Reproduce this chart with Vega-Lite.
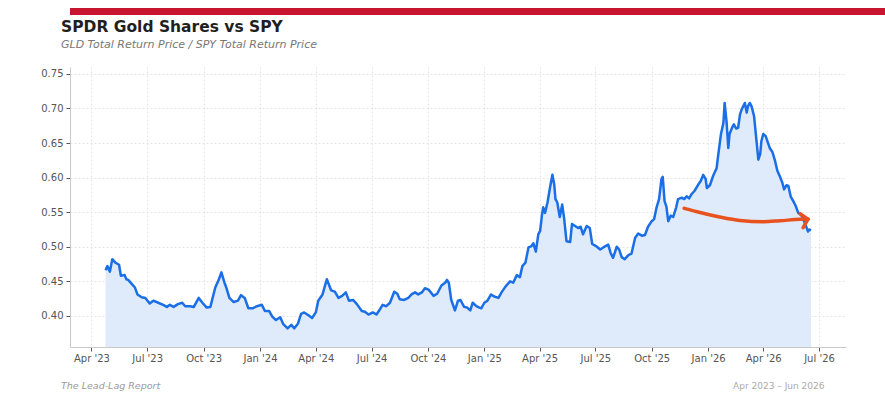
{
  "$schema": "https://vega.github.io/schema/vega-lite/v6.json",
  "padding": {"left": 8, "top": 8, "right": 0, "bottom": 0},
  "background": "white",
  "config": {
    "font": "DejaVu Sans",
    "view": {"stroke": null},
    "concat": {"spacing": 4}
  },
  "title": {
    "text": "The Lead-Lag Report",
    "orient": "bottom",
    "anchor": "start",
    "frame": "bounds",
    "dx": 53,
    "offset": -9,
    "fontSize": 9.5,
    "fontStyle": "italic",
    "fontWeight": "normal",
    "color": "#9a9a9a"
  },
  "datasets": {
    "ratio": [
      {"date": "2023-04-24", "value": 0.466},
      {"date": "2023-04-27", "value": 0.472},
      {"date": "2023-05-01", "value": 0.464},
      {"date": "2023-05-05", "value": 0.482},
      {"date": "2023-05-10", "value": 0.477},
      {"date": "2023-05-16", "value": 0.474},
      {"date": "2023-05-19", "value": 0.458},
      {"date": "2023-05-25", "value": 0.459},
      {"date": "2023-05-28", "value": 0.453},
      {"date": "2023-05-31", "value": 0.452},
      {"date": "2023-06-06", "value": 0.446},
      {"date": "2023-06-11", "value": 0.441},
      {"date": "2023-06-15", "value": 0.431},
      {"date": "2023-06-22", "value": 0.427},
      {"date": "2023-06-28", "value": 0.426},
      {"date": "2023-07-05", "value": 0.418},
      {"date": "2023-07-11", "value": 0.422},
      {"date": "2023-07-19", "value": 0.419},
      {"date": "2023-07-27", "value": 0.416},
      {"date": "2023-08-02", "value": 0.413},
      {"date": "2023-08-07", "value": 0.416},
      {"date": "2023-08-13", "value": 0.413},
      {"date": "2023-08-20", "value": 0.417},
      {"date": "2023-08-27", "value": 0.419},
      {"date": "2023-09-01", "value": 0.414},
      {"date": "2023-09-09", "value": 0.414},
      {"date": "2023-09-15", "value": 0.413},
      {"date": "2023-09-23", "value": 0.426},
      {"date": "2023-09-29", "value": 0.419},
      {"date": "2023-10-06", "value": 0.412},
      {"date": "2023-10-12", "value": 0.413},
      {"date": "2023-10-20", "value": 0.441},
      {"date": "2023-10-26", "value": 0.453},
      {"date": "2023-10-30", "value": 0.463},
      {"date": "2023-11-04", "value": 0.448},
      {"date": "2023-11-07", "value": 0.441},
      {"date": "2023-11-12", "value": 0.426},
      {"date": "2023-11-19", "value": 0.420},
      {"date": "2023-11-26", "value": 0.422},
      {"date": "2023-12-01", "value": 0.430},
      {"date": "2023-12-07", "value": 0.426},
      {"date": "2023-12-13", "value": 0.411},
      {"date": "2023-12-20", "value": 0.411},
      {"date": "2023-12-27", "value": 0.414},
      {"date": "2024-01-04", "value": 0.416},
      {"date": "2024-01-09", "value": 0.407},
      {"date": "2024-01-16", "value": 0.407},
      {"date": "2024-01-21", "value": 0.399},
      {"date": "2024-01-27", "value": 0.394},
      {"date": "2024-02-03", "value": 0.398},
      {"date": "2024-02-08", "value": 0.388},
      {"date": "2024-02-15", "value": 0.382},
      {"date": "2024-02-21", "value": 0.387},
      {"date": "2024-02-26", "value": 0.382},
      {"date": "2024-03-03", "value": 0.389},
      {"date": "2024-03-08", "value": 0.403},
      {"date": "2024-03-13", "value": 0.405},
      {"date": "2024-03-20", "value": 0.401},
      {"date": "2024-03-26", "value": 0.397},
      {"date": "2024-04-01", "value": 0.405},
      {"date": "2024-04-05", "value": 0.422},
      {"date": "2024-04-12", "value": 0.431},
      {"date": "2024-04-19", "value": 0.453},
      {"date": "2024-04-26", "value": 0.437},
      {"date": "2024-05-02", "value": 0.435},
      {"date": "2024-05-08", "value": 0.426},
      {"date": "2024-05-14", "value": 0.429},
      {"date": "2024-05-20", "value": 0.434},
      {"date": "2024-05-25", "value": 0.422},
      {"date": "2024-06-01", "value": 0.423},
      {"date": "2024-06-07", "value": 0.417},
      {"date": "2024-06-15", "value": 0.407},
      {"date": "2024-06-20", "value": 0.406},
      {"date": "2024-06-26", "value": 0.402},
      {"date": "2024-07-03", "value": 0.405},
      {"date": "2024-07-09", "value": 0.402},
      {"date": "2024-07-15", "value": 0.410},
      {"date": "2024-07-19", "value": 0.416},
      {"date": "2024-07-25", "value": 0.414},
      {"date": "2024-07-31", "value": 0.419},
      {"date": "2024-08-07", "value": 0.435},
      {"date": "2024-08-12", "value": 0.432},
      {"date": "2024-08-16", "value": 0.424},
      {"date": "2024-08-23", "value": 0.423},
      {"date": "2024-08-30", "value": 0.426},
      {"date": "2024-09-04", "value": 0.431},
      {"date": "2024-09-10", "value": 0.434},
      {"date": "2024-09-15", "value": 0.431},
      {"date": "2024-09-21", "value": 0.434},
      {"date": "2024-09-26", "value": 0.440},
      {"date": "2024-10-02", "value": 0.438},
      {"date": "2024-10-10", "value": 0.429},
      {"date": "2024-10-16", "value": 0.432},
      {"date": "2024-10-23", "value": 0.444},
      {"date": "2024-10-29", "value": 0.448},
      {"date": "2024-11-01", "value": 0.452},
      {"date": "2024-11-04", "value": 0.448},
      {"date": "2024-11-08", "value": 0.423},
      {"date": "2024-11-14", "value": 0.408},
      {"date": "2024-11-19", "value": 0.422},
      {"date": "2024-11-23", "value": 0.423},
      {"date": "2024-11-29", "value": 0.413},
      {"date": "2024-12-04", "value": 0.412},
      {"date": "2024-12-09", "value": 0.408},
      {"date": "2024-12-13", "value": 0.419},
      {"date": "2024-12-19", "value": 0.414},
      {"date": "2024-12-24", "value": 0.412},
      {"date": "2024-12-27", "value": 0.411},
      {"date": "2025-01-01", "value": 0.419},
      {"date": "2025-01-06", "value": 0.422},
      {"date": "2025-01-12", "value": 0.431},
      {"date": "2025-01-17", "value": 0.428},
      {"date": "2025-01-24", "value": 0.426},
      {"date": "2025-01-29", "value": 0.434},
      {"date": "2025-02-05", "value": 0.443},
      {"date": "2025-02-12", "value": 0.450},
      {"date": "2025-02-17", "value": 0.448},
      {"date": "2025-02-23", "value": 0.459},
      {"date": "2025-02-28", "value": 0.456},
      {"date": "2025-03-04", "value": 0.472},
      {"date": "2025-03-09", "value": 0.477},
      {"date": "2025-03-14", "value": 0.499},
      {"date": "2025-03-19", "value": 0.501},
      {"date": "2025-03-22", "value": 0.505},
      {"date": "2025-03-26", "value": 0.493},
      {"date": "2025-03-30", "value": 0.518},
      {"date": "2025-04-02", "value": 0.523},
      {"date": "2025-04-05", "value": 0.546},
      {"date": "2025-04-07", "value": 0.557},
      {"date": "2025-04-10", "value": 0.549},
      {"date": "2025-04-14", "value": 0.564},
      {"date": "2025-04-18", "value": 0.585},
      {"date": "2025-04-22", "value": 0.604},
      {"date": "2025-04-25", "value": 0.590},
      {"date": "2025-04-27", "value": 0.569},
      {"date": "2025-04-30", "value": 0.564},
      {"date": "2025-05-04", "value": 0.543},
      {"date": "2025-05-08", "value": 0.561},
      {"date": "2025-05-11", "value": 0.542},
      {"date": "2025-05-15", "value": 0.508},
      {"date": "2025-05-21", "value": 0.507},
      {"date": "2025-05-24", "value": 0.533},
      {"date": "2025-05-29", "value": 0.530},
      {"date": "2025-06-03", "value": 0.527},
      {"date": "2025-06-07", "value": 0.529},
      {"date": "2025-06-11", "value": 0.518},
      {"date": "2025-06-17", "value": 0.530},
      {"date": "2025-06-22", "value": 0.527},
      {"date": "2025-06-26", "value": 0.504},
      {"date": "2025-07-02", "value": 0.501},
      {"date": "2025-07-09", "value": 0.496},
      {"date": "2025-07-14", "value": 0.499},
      {"date": "2025-07-22", "value": 0.503},
      {"date": "2025-07-26", "value": 0.491},
      {"date": "2025-07-30", "value": 0.484},
      {"date": "2025-08-05", "value": 0.500},
      {"date": "2025-08-09", "value": 0.496},
      {"date": "2025-08-13", "value": 0.485},
      {"date": "2025-08-18", "value": 0.482},
      {"date": "2025-08-24", "value": 0.488},
      {"date": "2025-08-29", "value": 0.490},
      {"date": "2025-09-04", "value": 0.513},
      {"date": "2025-09-09", "value": 0.519},
      {"date": "2025-09-15", "value": 0.516},
      {"date": "2025-09-20", "value": 0.517},
      {"date": "2025-09-25", "value": 0.529},
      {"date": "2025-10-01", "value": 0.537},
      {"date": "2025-10-05", "value": 0.540},
      {"date": "2025-10-09", "value": 0.557},
      {"date": "2025-10-13", "value": 0.569},
      {"date": "2025-10-17", "value": 0.598},
      {"date": "2025-10-19", "value": 0.601},
      {"date": "2025-10-22", "value": 0.566},
      {"date": "2025-10-25", "value": 0.558},
      {"date": "2025-10-28", "value": 0.537},
      {"date": "2025-11-01", "value": 0.545},
      {"date": "2025-11-05", "value": 0.543},
      {"date": "2025-11-10", "value": 0.557},
      {"date": "2025-11-13", "value": 0.569},
      {"date": "2025-11-19", "value": 0.571},
      {"date": "2025-11-23", "value": 0.569},
      {"date": "2025-11-27", "value": 0.573},
      {"date": "2025-12-01", "value": 0.570},
      {"date": "2025-12-05", "value": 0.576},
      {"date": "2025-12-10", "value": 0.581},
      {"date": "2025-12-16", "value": 0.590},
      {"date": "2025-12-20", "value": 0.595},
      {"date": "2025-12-24", "value": 0.604},
      {"date": "2025-12-28", "value": 0.598},
      {"date": "2025-12-30", "value": 0.585},
      {"date": "2026-01-04", "value": 0.589},
      {"date": "2026-01-09", "value": 0.602},
      {"date": "2026-01-15", "value": 0.614},
      {"date": "2026-01-17", "value": 0.629},
      {"date": "2026-01-22", "value": 0.663},
      {"date": "2026-01-26", "value": 0.679},
      {"date": "2026-01-28", "value": 0.708},
      {"date": "2026-01-31", "value": 0.682},
      {"date": "2026-02-03", "value": 0.643},
      {"date": "2026-02-05", "value": 0.663},
      {"date": "2026-02-09", "value": 0.672},
      {"date": "2026-02-12", "value": 0.677},
      {"date": "2026-02-16", "value": 0.671},
      {"date": "2026-02-19", "value": 0.672},
      {"date": "2026-02-22", "value": 0.691},
      {"date": "2026-02-25", "value": 0.699},
      {"date": "2026-03-02", "value": 0.708},
      {"date": "2026-03-05", "value": 0.694},
      {"date": "2026-03-07", "value": 0.703},
      {"date": "2026-03-10", "value": 0.708},
      {"date": "2026-03-13", "value": 0.703},
      {"date": "2026-03-17", "value": 0.689},
      {"date": "2026-03-21", "value": 0.653},
      {"date": "2026-03-24", "value": 0.626},
      {"date": "2026-03-27", "value": 0.634},
      {"date": "2026-03-29", "value": 0.653},
      {"date": "2026-04-01", "value": 0.663},
      {"date": "2026-04-05", "value": 0.660},
      {"date": "2026-04-08", "value": 0.652},
      {"date": "2026-04-12", "value": 0.642},
      {"date": "2026-04-16", "value": 0.637},
      {"date": "2026-04-20", "value": 0.625},
      {"date": "2026-04-24", "value": 0.610},
      {"date": "2026-04-28", "value": 0.602},
      {"date": "2026-05-02", "value": 0.593},
      {"date": "2026-05-05", "value": 0.583},
      {"date": "2026-05-09", "value": 0.589},
      {"date": "2026-05-12", "value": 0.588},
      {"date": "2026-05-16", "value": 0.572},
      {"date": "2026-05-20", "value": 0.566},
      {"date": "2026-05-24", "value": 0.559},
      {"date": "2026-05-28", "value": 0.549},
      {"date": "2026-06-02", "value": 0.546},
      {"date": "2026-06-05", "value": 0.540},
      {"date": "2026-06-09", "value": 0.532},
      {"date": "2026-06-13", "value": 0.522},
      {"date": "2026-06-15", "value": 0.525},
      {"date": "2026-06-18", "value": 0.524}
    ],
    "arrow": [
      {"date": "2025-11-23", "value": 0.5556},
      {"date": "2025-12-19", "value": 0.5496},
      {"date": "2026-01-20", "value": 0.5430},
      {"date": "2026-02-22", "value": 0.5380},
      {"date": "2026-04-01", "value": 0.5363},
      {"date": "2026-04-28", "value": 0.5376},
      {"date": "2026-05-31", "value": 0.5397},
      {"date": "2026-06-13", "value": 0.5400}
    ],
    "head": [
      {"date": "2026-05-31", "value": 0.5478, "o": 1},
      {"date": "2026-06-13", "value": 0.5397, "o": 2},
      {"date": "2026-06-05", "value": 0.5276, "o": 3}
    ]
  },
  "vconcat": [
    {
      "width": 877,
      "height": 7,
      "view": {"fill": "#c8142f", "stroke": null},
      "data": {"values": [{"b": 1}]},
      "mark": {"type": "point", "opacity": 0, "size": 1},
      "encoding": {}
    },
    {
      "width": 776,
      "height": 280,
      "title": {
        "text": "SPDR Gold Shares vs SPY",
        "subtitle": "GLD Total Return Price / SPY Total Return Price",
        "anchor": "start",
        "frame": "group",
        "dx": -9,
        "offset": 17,
        "fontSize": 15.5,
        "fontWeight": "bold",
        "color": "#1f1f1f",
        "subtitleFontSize": 11,
        "subtitleFontStyle": "italic",
        "subtitleColor": "#777777",
        "subtitlePadding": 4
      },
      "encoding": {
        "x": {
          "field": "date",
          "type": "temporal",
          "scale": {"domain": [{"year": 2023, "month": 2, "date": 25}, {"year": 2026, "month": 8, "date": 14}]},
          "axis": {
            "title": "Apr 2023 – Jun 2026",
            "titleX": 754,
            "titleAlign": "right",
            "titleAnchor": "end",
            "titlePadding": 18,
            "titleFontSize": 9,
            "titleFontWeight": "normal",
            "titleColor": "#aaaaaa",
            "format": "%b '%y",
            "tickCount": {"interval": "month", "step": 3},
            "labelFontSize": 10,
            "labelColor": "#555555",
            "labelPadding": 2,
            "tickSize": 4,
            "tickColor": "#555555",
            "domainColor": "#c8c8c8",
            "grid": true,
            "gridColor": "#e4e4e4",
            "gridDash": [2, 2]
          }
        },
        "y": {
          "field": "value",
          "type": "quantitative",
          "scale": {"domain": [0.355, 0.76], "nice": false, "zero": false},
          "axis": {
            "title": null,
            "values": [0.40, 0.45, 0.50, 0.55, 0.60, 0.65, 0.70, 0.75],
            "format": ".2f",
            "labelFontSize": 10,
            "labelColor": "#555555",
            "labelPadding": 3,
            "tickSize": 4,
            "tickColor": "#555555",
            "domainColor": "#c8c8c8",
            "minExtent": 62,
            "grid": true,
            "gridColor": "#e4e4e4",
            "gridDash": [2, 2]
          }
        }
      },
      "layer": [
        {
          "data": {"name": "ratio"},
          "mark": {"type": "area", "color": "#dfeafb", "opacity": 1, "clip": true}
        },
        {
          "data": {"name": "ratio"},
          "mark": {"type": "line", "color": "#1a6ee6", "strokeWidth": 2.5, "strokeJoin": "round"}
        },
        {
          "data": {"name": "arrow"},
          "mark": {"type": "line", "color": "#e8521f", "strokeWidth": 3.5, "interpolate": "monotone", "strokeCap": "round"}
        },
        {
          "data": {"name": "head"},
          "mark": {"type": "line", "color": "#e8521f", "strokeWidth": 3.5, "strokeCap": "round", "strokeJoin": "miter"},
          "encoding": {"order": {"field": "o", "type": "quantitative"}}
        }
      ]
    }
  ]
}
